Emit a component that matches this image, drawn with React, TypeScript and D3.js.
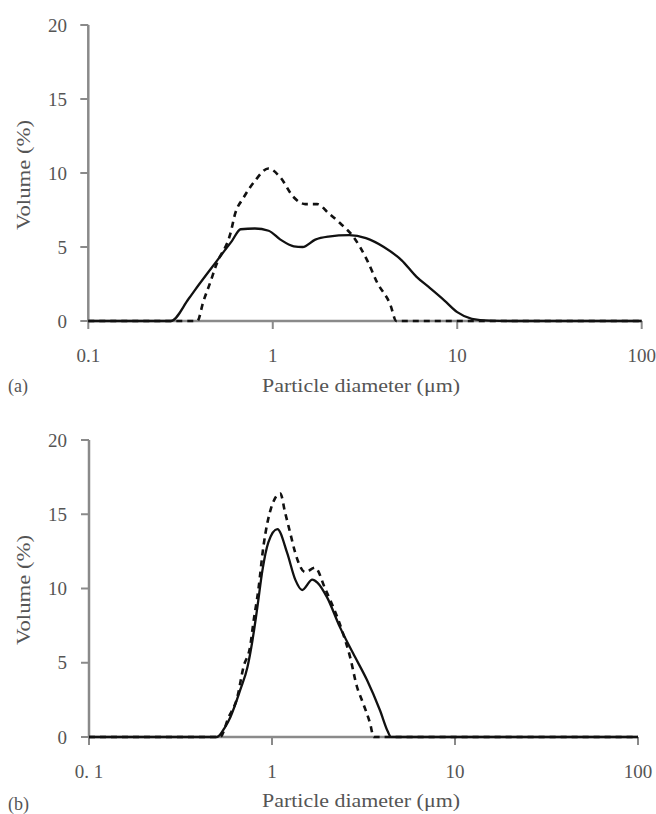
import React from "react";
import * as d3 from "d3";

// Panel (a)
const aSolidD = [0.1, 0.28, 0.35, 0.4, 0.5, 0.6, 0.67, 0.8, 0.95, 1.1, 1.3, 1.45, 1.7, 2.0, 2.6, 3.2, 4, 5, 6, 7, 8.5, 10, 12, 15, 20, 100];
const aSolidV = [0, 0, 1.5, 2.5, 4.1, 5.4, 6.2, 6.25, 6.1, 5.5, 5.05, 5.0, 5.5, 5.7, 5.8, 5.6, 5.0, 4.1, 3.0, 2.3, 1.4, 0.6, 0.15, 0.02, 0, 0];
const aDashD = [0.1, 0.39, 0.42, 0.458, 0.494, 0.589, 0.627, 0.692, 0.804, 0.946, 1.1, 1.29, 1.5, 1.74, 2.0, 2.32, 2.73, 3.25, 3.68, 4.34, 4.67, 100];
const aDashV = [0, 0, 1.3, 2.6, 3.8, 5.9, 7.3, 8.3, 9.5, 10.3, 9.7, 8.4, 7.9, 7.9, 7.3, 6.6, 5.7, 4.1, 2.6, 1.1, 0, 0];

// Panel (b)
const bSolidD = [0.1, 0.5, 0.55, 0.593, 0.672, 0.734, 0.782, 0.832, 0.886, 0.955, 1.07, 1.21, 1.34, 1.46, 1.66, 1.77, 2.0, 2.35, 2.77, 3.3, 3.89, 4.3, 4.46, 100];
const bSolidV = [0, 0, 0.6, 1.35, 3.2, 4.7, 6.5, 8.75, 11.2, 13.1, 14.0, 12.4, 10.6, 9.9, 10.6, 10.4, 9.4, 7.4, 5.65, 3.85, 1.8, 0.35, 0, 0];
const bDashD = [0.1, 0.52, 0.578, 0.647, 0.698, 0.762, 0.791, 0.842, 0.897, 1.0, 1.11, 1.18, 1.26, 1.34, 1.52, 1.72, 1.95, 2.44, 2.67, 2.91, 3.14, 3.43, 3.6, 100];
const bDashV = [0, 0, 1.3, 2.7, 4.7, 6.2, 7.7, 9.9, 12.8, 15.6, 16.4, 15.1, 13.7, 12.4, 11.1, 11.4, 10.0, 7.0, 5.4, 3.4, 2.3, 0.95, 0, 0];

const xTicks = [0.1, 1, 10, 100];
const xTickLabelsA = ["0.1", "1", "10", "100"];
const xTickLabelsB = ["0. 1", "1", "10", "100"];
const yTicks = [0, 5, 10, 15, 20];

const AXIS = "#8a8a8a";
const TEXT = "#555";
const FONT = "'Liberation Serif', 'DejaVu Serif', serif";

type PanelProps = {
  x0: number; x1: number; yBottom: number; yTop: number;
  solidD: number[]; solidV: number[]; dashD: number[]; dashV: number[];
  xLabels: string[]; tag: string; tagY: number; titleY: number; yTitleY: number;
};

function Panel(p: PanelProps) {
  const x = d3.scaleLog().domain([0.1, 100]).range([p.x0, p.x1]);
  const y = d3.scaleLinear().domain([0, 20]).range([p.yBottom, p.yTop]);
  const line = d3.line<[number, number]>()
    .x((d) => x(d[0]))
    .y((d) => y(d[1]))
    .curve(d3.curveMonotoneX);
  const solid = line(p.solidD.map((d, i) => [d, p.solidV[i]] as [number, number])) || "";
  const dash = line(p.dashD.map((d, i) => [d, p.dashV[i]] as [number, number])) || "";
  return (
    <g fontFamily={FONT} fill={TEXT}>
      <line x1={p.x0} x2={p.x0} y1={y(20)} y2={y(0) + 1} stroke={AXIS} strokeWidth={2.5} />
      <line x1={p.x0} x2={p.x1} y1={y(0)} y2={y(0)} stroke={AXIS} strokeWidth={2.5} />
      {yTicks.map((t) => (
        <g key={"y" + t}>
          <line x1={p.x0 - 8} x2={p.x0} y1={y(t)} y2={y(t)} stroke={AXIS} strokeWidth={2} />
          <text x={67} y={y(t)} dy="0.35em" textAnchor="end" fontSize={19}>{t}</text>
        </g>
      ))}
      {xTicks.map((t, i) => (
        <g key={"x" + t}>
          <line x1={x(t)} x2={x(t)} y1={y(0)} y2={y(0) + 8} stroke={AXIS} strokeWidth={2} />
          <text x={x(t)} y={y(0) + 41} textAnchor="middle" fontSize={19}>{p.xLabels[i]}</text>
        </g>
      ))}
      <path d={solid} fill="none" stroke="#111" strokeWidth={2.3} />
      <path d={dash} fill="none" stroke="#111" strokeWidth={2.6} strokeDasharray="6,5" />
      <text x={361} y={p.titleY} textAnchor="middle" fontSize={18} textLength={198} lengthAdjust="spacingAndGlyphs">Particle diameter (μm)</text>
      <text x={8} y={p.tagY} fontSize={18}>{p.tag}</text>
      <text transform={`translate(30,${p.yTitleY}) rotate(-90)`} textAnchor="middle" fontSize={18} textLength={110} lengthAdjust="spacingAndGlyphs">Volume (%)</text>
    </g>
  );
}

export default function App() {
  return (
    <svg width={656} height={814} style={{ position: "absolute", left: 0, top: 0, background: "#fff" }}>
      <rect x={0} y={0} width={656} height={814} fill="#fff" />
      <Panel x0={88.3} x1={641.7} yBottom={321} yTop={25}
        solidD={aSolidD} solidV={aSolidV} dashD={aDashD} dashV={aDashV}
        xLabels={xTickLabelsA} tag="(a)" tagY={392} titleY={392} yTitleY={175} />
      <Panel x0={89} x1={638} yBottom={737} yTop={440}
        solidD={bSolidD} solidV={bSolidV} dashD={bDashD} dashV={bDashV}
        xLabels={xTickLabelsB} tag="(b)" tagY={810} titleY={807} yTitleY={590} />
    </svg>
  );
}
